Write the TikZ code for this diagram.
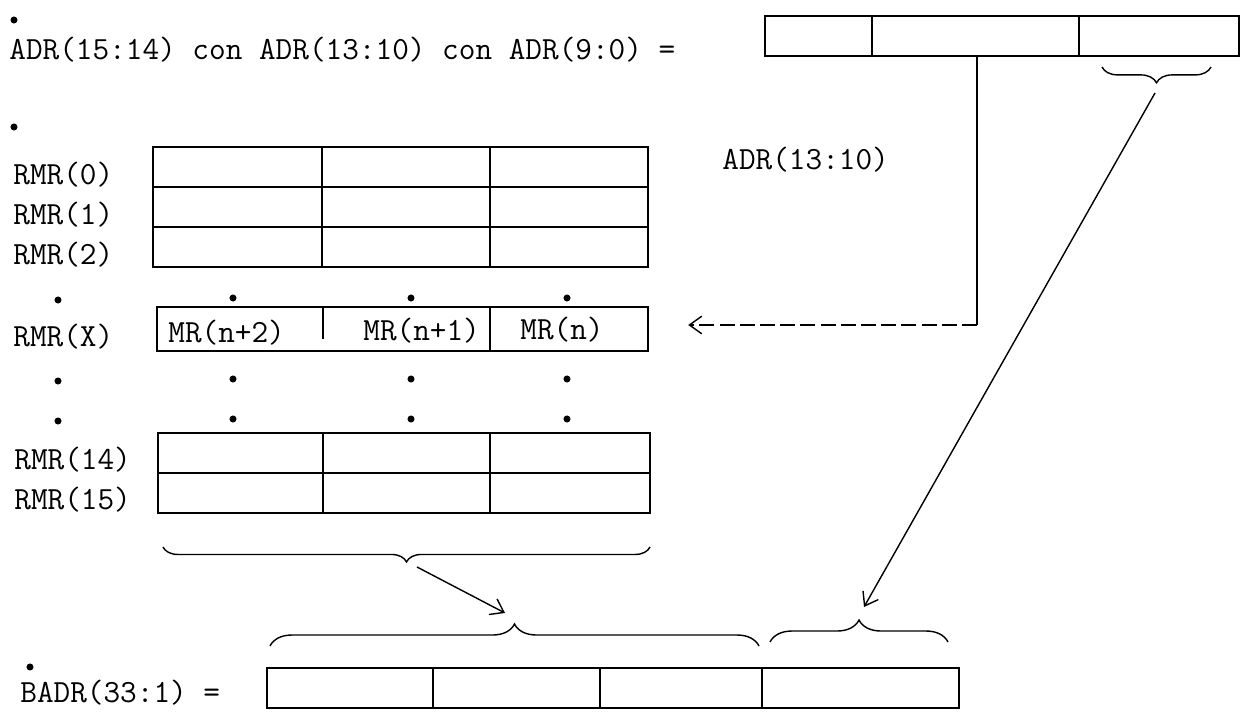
\documentclass[tikz,border=0pt]{standalone}
\usepackage{tikz}
\usetikzlibrary{arrows.meta, positioning, calc, decorations.pathreplacing}

\tikzset{
  reg/.style={line width=1pt},
  cell/.style={line width=0.6pt},
  lbl/.style={anchor=west, inner sep=0pt, font=\fontsize{18.4}{20}\selectfont\ttfamily},
  dot/.style={circle, fill, inner sep=0pt, minimum size=4pt},
  brace down/.style={decorate, decoration={brace, mirror, amplitude=#1}, line width=0.8pt},
  brace up/.style={decorate, decoration={brace, amplitude=#1}, line width=0.8pt},
  barb/.style={-{Straight Barb[length=7pt, width=10pt]}, line width=0.8pt}
}

\begin{document}
\begin{tikzpicture}[x=0.02cm, y=-0.02cm]
        \useasboundingbox (0,0) rectangle (1244,715);

        % Address line
        \node[dot] (d0) at (14,20) {};
        \node[lbl] (adr) at (9,50) {ADR(15:14) con ADR(13:10) con ADR(9:0) =};
        \draw[reg] (765,16) rectangle (1239,56);
        \draw[cell] (872,16) -- (872,56) (1079,16) -- (1079,56);
        \draw[brace down=9pt] (1102,67) -- (1211,67);
        \coordinate (lowfrom) at (1155,93);
        \coordinate (lowto) at (864,607);
        \coordinate (adrtap) at (977,56);
        \coordinate (adrbend) at (977,325);

        % Mid field label
        \node[lbl] (adrmid) at (722,160) {ADR(13:10)};

        % Register file, rows 0 to 2
        \node[dot] (d1) at (14,127) {};
        \draw[reg] (153,147) rectangle (648,267);
        \draw[reg] (153,187) -- (648,187) (153,227) -- (648,227);
        \draw[cell] (322,147) -- (322,267) (490,147) -- (490,267);
        \node[lbl] (rmr0) at (13,175) {RMR(0)};
        \node[lbl] (rmr1) at (13,215) {RMR(1)};
        \node[lbl] (rmr2) at (13,255) {RMR(2)};

        % Dots
        \foreach \y in {300,381,421} {
          \node[dot] at (58,\y) {};
          \foreach \x in {233,411,567} \node[dot] at (\x,\y-2) {};
        }

        % Selected row
        \draw[reg] (157,307) rectangle (648,351);
        \draw[cell] (323,307) -- (323,339) (490,307) -- (490,351);
        \node[lbl] (rmrx) at (13,337) {RMR(X)};
        \node[lbl] (mr2) at (168,333) {MR(n+2)};
        \node[lbl] (mr1) at (363,331) {MR(n+1)};
        \node[lbl] (mr0) at (520,330) {MR(n)};
        \node[inner sep=0pt] (rowin) at (687,325) {};
        \draw[cell] (adrtap) -- (adrbend);
        \draw[barb, dash pattern=on 8.5pt off 3pt] (adrbend) -- (rowin);

        % Rows 14 and 15
        \draw[reg] (158,433) rectangle (650,513);
        \draw[reg] (158,473) -- (650,473);
        \draw[cell] (323,433) -- (323,513) (490,433) -- (490,513);
        \node[lbl] (rmr14) at (14,460) {RMR(14)};
        \node[lbl] (rmr15) at (14,500) {RMR(15)};

        % Braces
        \draw[brace down=8.5pt] (163,547) -- (650,547);
        \coordinate (rowfrom) at (417,567);
        \coordinate (rowto) at (505,613);
        \draw[barb] (rowfrom) -- (rowto);
        \draw[brace up=12.5pt] (270,646) -- (759,646);
        \draw[brace up=12.5pt] (770,642) -- (948,642);
        \draw[barb] (lowfrom) -- (lowto);

        % Result
        \node[dot] (d2) at (30,667) {};
        \node[lbl] (badr) at (20,693) {BADR(33:1) =};
        \draw[reg] (267,668) rectangle (959,708);
        \draw[cell] (433,668) -- (433,708) (600,668) -- (600,708) (762,668) -- (762,708);
\end{tikzpicture}
\end{document}
